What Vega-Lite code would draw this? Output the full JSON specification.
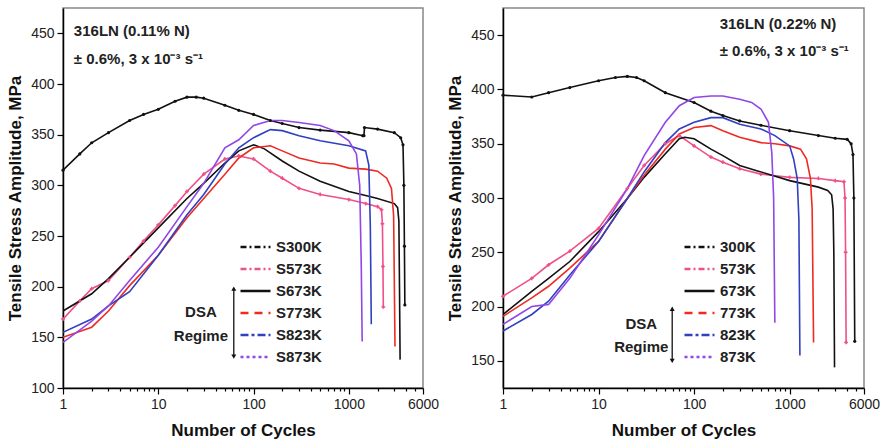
{
  "$schema": "https://vega.github.io/schema/vega-lite/v6.json",
  "background": "white",
  "padding": {"left": 5, "top": 7, "right": 1, "bottom": 0},
  "spacing": 80,
  "bounds": "flush",
  "config": {
    "font": "Liberation Sans",
    "view": {"stroke": "#888", "strokeWidth": 1.5},
    "axis": {"domainColor": "#000", "domainWidth": 1.5, "tickColor": "#000", "tickWidth": 1.2, "labelFontSize": 14, "labelColor": "#222", "titleFontSize": 17, "titleFontWeight": "bold", "titleColor": "#111", "grid": false, "labelFlush": false, "labelOverlap": false, "labelPadding": 3}
  },
  "datasets": {
    "left": [
      {"series": "S300K", "n": 1, "s": 315}, {"series": "S300K", "n": 1.5, "s": 331}, {"series": "S300K", "n": 2, "s": 342}, {"series": "S300K", "n": 3, "s": 352}, {"series": "S300K", "n": 5, "s": 364}, {"series": "S300K", "n": 7, "s": 370}, {"series": "S300K", "n": 10, "s": 375}, {"series": "S300K", "n": 15, "s": 383}, {"series": "S300K", "n": 20, "s": 387}, {"series": "S300K", "n": 25, "s": 387}, {"series": "S300K", "n": 30, "s": 386}, {"series": "S300K", "n": 50, "s": 379}, {"series": "S300K", "n": 70, "s": 374}, {"series": "S300K", "n": 100, "s": 370}, {"series": "S300K", "n": 150, "s": 364}, {"series": "S300K", "n": 200, "s": 361}, {"series": "S300K", "n": 300, "s": 357}, {"series": "S300K", "n": 500, "s": 354.5}, {"series": "S300K", "n": 1000, "s": 352}, {"series": "S300K", "n": 1400, "s": 349}, {"series": "S300K", "n": 1440, "s": 349}, {"series": "S300K", "n": 1460, "s": 357}, {"series": "S300K", "n": 2000, "s": 355.5}, {"series": "S300K", "n": 3000, "s": 352}, {"series": "S300K", "n": 3500, "s": 347}, {"series": "S300K", "n": 3700, "s": 340}, {"series": "S300K", "n": 3780, "s": 300}, {"series": "S300K", "n": 3830, "s": 240}, {"series": "S300K", "n": 3870, "s": 182},
      {"series": "S573K", "n": 1, "s": 168}, {"series": "S573K", "n": 1.5, "s": 186}, {"series": "S573K", "n": 2, "s": 198}, {"series": "S573K", "n": 3, "s": 206}, {"series": "S573K", "n": 5, "s": 229}, {"series": "S573K", "n": 7, "s": 245}, {"series": "S573K", "n": 10, "s": 261}, {"series": "S573K", "n": 15, "s": 280}, {"series": "S573K", "n": 20, "s": 294}, {"series": "S573K", "n": 30, "s": 311}, {"series": "S573K", "n": 50, "s": 326}, {"series": "S573K", "n": 70, "s": 329}, {"series": "S573K", "n": 100, "s": 326}, {"series": "S573K", "n": 150, "s": 314}, {"series": "S573K", "n": 200, "s": 307}, {"series": "S573K", "n": 300, "s": 297}, {"series": "S573K", "n": 500, "s": 291}, {"series": "S573K", "n": 1000, "s": 286}, {"series": "S573K", "n": 1500, "s": 282}, {"series": "S573K", "n": 2000, "s": 279}, {"series": "S573K", "n": 2200, "s": 276}, {"series": "S573K", "n": 2250, "s": 262}, {"series": "S573K", "n": 2280, "s": 220}, {"series": "S573K", "n": 2300, "s": 180},
      {"series": "S673K", "n": 1, "s": 176}, {"series": "S673K", "n": 2, "s": 193}, {"series": "S673K", "n": 3, "s": 208}, {"series": "S673K", "n": 5, "s": 229}, {"series": "S673K", "n": 10, "s": 258}, {"series": "S673K", "n": 20, "s": 287}, {"series": "S673K", "n": 30, "s": 302}, {"series": "S673K", "n": 50, "s": 322}, {"series": "S673K", "n": 70, "s": 334}, {"series": "S673K", "n": 100, "s": 340}, {"series": "S673K", "n": 130, "s": 336}, {"series": "S673K", "n": 200, "s": 324}, {"series": "S673K", "n": 300, "s": 314}, {"series": "S673K", "n": 500, "s": 304}, {"series": "S673K", "n": 1000, "s": 294}, {"series": "S673K", "n": 1500, "s": 290}, {"series": "S673K", "n": 2000, "s": 287}, {"series": "S673K", "n": 3000, "s": 282}, {"series": "S673K", "n": 3250, "s": 278}, {"series": "S673K", "n": 3350, "s": 265}, {"series": "S673K", "n": 3400, "s": 200}, {"series": "S673K", "n": 3450, "s": 128},
      {"series": "S773K", "n": 1, "s": 150}, {"series": "S773K", "n": 2, "s": 160}, {"series": "S773K", "n": 3, "s": 176}, {"series": "S773K", "n": 5, "s": 201}, {"series": "S773K", "n": 10, "s": 231}, {"series": "S773K", "n": 20, "s": 268}, {"series": "S773K", "n": 30, "s": 287}, {"series": "S773K", "n": 50, "s": 311}, {"series": "S773K", "n": 70, "s": 327}, {"series": "S773K", "n": 100, "s": 337}, {"series": "S773K", "n": 150, "s": 339}, {"series": "S773K", "n": 200, "s": 334}, {"series": "S773K", "n": 300, "s": 327}, {"series": "S773K", "n": 500, "s": 322}, {"series": "S773K", "n": 700, "s": 321}, {"series": "S773K", "n": 1000, "s": 317}, {"series": "S773K", "n": 1500, "s": 316}, {"series": "S773K", "n": 2000, "s": 314}, {"series": "S773K", "n": 2500, "s": 307}, {"series": "S773K", "n": 2800, "s": 297}, {"series": "S773K", "n": 2950, "s": 270}, {"series": "S773K", "n": 3050, "s": 141},
      {"series": "S823K", "n": 1, "s": 155}, {"series": "S823K", "n": 2, "s": 168}, {"series": "S823K", "n": 3, "s": 181}, {"series": "S823K", "n": 5, "s": 195}, {"series": "S823K", "n": 10, "s": 231}, {"series": "S823K", "n": 20, "s": 271}, {"series": "S823K", "n": 30, "s": 291}, {"series": "S823K", "n": 50, "s": 321}, {"series": "S823K", "n": 70, "s": 337}, {"series": "S823K", "n": 100, "s": 347}, {"series": "S823K", "n": 150, "s": 355}, {"series": "S823K", "n": 200, "s": 354}, {"series": "S823K", "n": 300, "s": 349}, {"series": "S823K", "n": 500, "s": 344}, {"series": "S823K", "n": 1000, "s": 339}, {"series": "S823K", "n": 1500, "s": 334}, {"series": "S823K", "n": 1620, "s": 320}, {"series": "S823K", "n": 1680, "s": 260}, {"series": "S823K", "n": 1720, "s": 163},
      {"series": "S873K", "n": 1, "s": 145}, {"series": "S873K", "n": 2, "s": 166}, {"series": "S873K", "n": 3, "s": 181}, {"series": "S873K", "n": 5, "s": 206}, {"series": "S873K", "n": 10, "s": 239}, {"series": "S873K", "n": 20, "s": 279}, {"series": "S873K", "n": 30, "s": 302}, {"series": "S873K", "n": 50, "s": 337}, {"series": "S873K", "n": 70, "s": 345}, {"series": "S873K", "n": 100, "s": 359}, {"series": "S873K", "n": 150, "s": 364}, {"series": "S873K", "n": 200, "s": 364}, {"series": "S873K", "n": 300, "s": 362}, {"series": "S873K", "n": 500, "s": 359}, {"series": "S873K", "n": 700, "s": 354}, {"series": "S873K", "n": 1000, "s": 344}, {"series": "S873K", "n": 1200, "s": 331}, {"series": "S873K", "n": 1300, "s": 300}, {"series": "S873K", "n": 1350, "s": 220}, {"series": "S873K", "n": 1380, "s": 146}
    ],
    "right": [
      {"series": "300K", "n": 1, "s": 394.7}, {"series": "300K", "n": 2, "s": 393}, {"series": "300K", "n": 3, "s": 397}, {"series": "300K", "n": 5, "s": 401.7}, {"series": "300K", "n": 10, "s": 408}, {"series": "300K", "n": 15, "s": 411}, {"series": "300K", "n": 20, "s": 412}, {"series": "300K", "n": 25, "s": 411}, {"series": "300K", "n": 30, "s": 408}, {"series": "300K", "n": 50, "s": 397}, {"series": "300K", "n": 100, "s": 388}, {"series": "300K", "n": 150, "s": 380}, {"series": "300K", "n": 200, "s": 376}, {"series": "300K", "n": 300, "s": 371}, {"series": "300K", "n": 500, "s": 367}, {"series": "300K", "n": 1000, "s": 362}, {"series": "300K", "n": 2000, "s": 357.5}, {"series": "300K", "n": 3000, "s": 355}, {"series": "300K", "n": 4000, "s": 354}, {"series": "300K", "n": 4400, "s": 350}, {"series": "300K", "n": 4600, "s": 340}, {"series": "300K", "n": 4700, "s": 300}, {"series": "300K", "n": 4800, "s": 168},
      {"series": "573K", "n": 1, "s": 209.5}, {"series": "573K", "n": 2, "s": 226}, {"series": "573K", "n": 3, "s": 238.5}, {"series": "573K", "n": 5, "s": 251}, {"series": "573K", "n": 10, "s": 272}, {"series": "573K", "n": 20, "s": 308.7}, {"series": "573K", "n": 30, "s": 330}, {"series": "573K", "n": 50, "s": 350}, {"series": "573K", "n": 70, "s": 357.5}, {"series": "573K", "n": 100, "s": 348}, {"series": "573K", "n": 150, "s": 337.7}, {"series": "573K", "n": 200, "s": 333}, {"series": "573K", "n": 300, "s": 327}, {"series": "573K", "n": 500, "s": 322}, {"series": "573K", "n": 1000, "s": 319}, {"series": "573K", "n": 2000, "s": 318}, {"series": "573K", "n": 3000, "s": 316}, {"series": "573K", "n": 3700, "s": 315}, {"series": "573K", "n": 3800, "s": 300}, {"series": "573K", "n": 3850, "s": 250}, {"series": "573K", "n": 3900, "s": 167},
      {"series": "673K", "n": 1, "s": 192.7}, {"series": "673K", "n": 2, "s": 214}, {"series": "673K", "n": 3, "s": 226}, {"series": "673K", "n": 5, "s": 241.5}, {"series": "673K", "n": 10, "s": 269}, {"series": "673K", "n": 20, "s": 299.5}, {"series": "673K", "n": 30, "s": 319}, {"series": "673K", "n": 50, "s": 340.7}, {"series": "673K", "n": 70, "s": 354.5}, {"series": "673K", "n": 80, "s": 356}, {"series": "673K", "n": 100, "s": 354.5}, {"series": "673K", "n": 150, "s": 345}, {"series": "673K", "n": 200, "s": 339}, {"series": "673K", "n": 300, "s": 330}, {"series": "673K", "n": 500, "s": 324}, {"series": "673K", "n": 1000, "s": 316}, {"series": "673K", "n": 2000, "s": 310}, {"series": "673K", "n": 2500, "s": 307}, {"series": "673K", "n": 2750, "s": 303}, {"series": "673K", "n": 2850, "s": 290}, {"series": "673K", "n": 2900, "s": 250}, {"series": "673K", "n": 2950, "s": 144},
      {"series": "773K", "n": 1, "s": 191}, {"series": "773K", "n": 2, "s": 208}, {"series": "773K", "n": 3, "s": 218.7}, {"series": "773K", "n": 5, "s": 235.4}, {"series": "773K", "n": 10, "s": 260}, {"series": "773K", "n": 20, "s": 299.5}, {"series": "773K", "n": 30, "s": 321}, {"series": "773K", "n": 50, "s": 345}, {"series": "773K", "n": 70, "s": 359}, {"series": "773K", "n": 100, "s": 365}, {"series": "773K", "n": 150, "s": 366.7}, {"series": "773K", "n": 200, "s": 362}, {"series": "773K", "n": 300, "s": 356}, {"series": "773K", "n": 500, "s": 351}, {"series": "773K", "n": 700, "s": 350}, {"series": "773K", "n": 1000, "s": 348}, {"series": "773K", "n": 1300, "s": 345}, {"series": "773K", "n": 1500, "s": 336}, {"series": "773K", "n": 1650, "s": 318}, {"series": "773K", "n": 1720, "s": 290}, {"series": "773K", "n": 1780, "s": 167},
      {"series": "823K", "n": 1, "s": 177.5}, {"series": "823K", "n": 2, "s": 192.7}, {"series": "823K", "n": 3, "s": 205}, {"series": "823K", "n": 5, "s": 229}, {"series": "823K", "n": 10, "s": 260}, {"series": "823K", "n": 20, "s": 299.5}, {"series": "823K", "n": 30, "s": 324}, {"series": "823K", "n": 50, "s": 351}, {"series": "823K", "n": 70, "s": 363.6}, {"series": "823K", "n": 100, "s": 369.7}, {"series": "823K", "n": 150, "s": 374}, {"series": "823K", "n": 200, "s": 374}, {"series": "823K", "n": 300, "s": 368}, {"series": "823K", "n": 500, "s": 363.6}, {"series": "823K", "n": 700, "s": 357.5}, {"series": "823K", "n": 1000, "s": 348}, {"series": "823K", "n": 1100, "s": 336}, {"series": "823K", "n": 1200, "s": 318}, {"series": "823K", "n": 1250, "s": 280}, {"series": "823K", "n": 1280, "s": 155},
      {"series": "873K", "n": 1, "s": 183.6}, {"series": "873K", "n": 2, "s": 200}, {"series": "873K", "n": 3, "s": 202}, {"series": "873K", "n": 5, "s": 226}, {"series": "873K", "n": 10, "s": 266}, {"series": "873K", "n": 20, "s": 308.7}, {"series": "873K", "n": 30, "s": 339}, {"series": "873K", "n": 50, "s": 369.7}, {"series": "873K", "n": 70, "s": 385}, {"series": "873K", "n": 100, "s": 392.6}, {"series": "873K", "n": 150, "s": 394}, {"series": "873K", "n": 200, "s": 394}, {"series": "873K", "n": 300, "s": 391}, {"series": "873K", "n": 400, "s": 388}, {"series": "873K", "n": 500, "s": 382}, {"series": "873K", "n": 600, "s": 369.7}, {"series": "873K", "n": 650, "s": 342}, {"series": "873K", "n": 680, "s": 300}, {"series": "873K", "n": 700, "s": 185}
    ],
    "leftNotes": [
      {"n": 1.3, "s": 452, "t": "316LN (0.11% N)", "kind": "head"},
      {"n": 1.3, "s": 425, "t": "± 0.6%, 3 x 10⁻³ s⁻¹", "kind": "head"},
      {"n": 28, "s": 175, "t": "DSA", "kind": "dsa"},
      {"n": 28, "s": 151, "t": "Regime", "kind": "dsa"}
    ],
    "rightNotes": [
      {"n": 185, "s": 460, "t": "316LN (0.22% N)", "kind": "head"},
      {"n": 185, "s": 435, "t": "± 0.6%, 3 x 10⁻³ s⁻¹", "kind": "head"},
      {"n": 28, "s": 183.5, "t": "DSA", "kind": "dsa"},
      {"n": 28, "s": 163, "t": "Regime", "kind": "dsa"}
    ],
    "leftArrow": [{"n": 62, "top": 198, "bottom": 131}],
    "rightArrow": [{"n": 59, "top": 198, "bottom": 150}]
  },
  "hconcat": [
    {
      "width": 360,
      "height": 380,
      "layer": [
        {
          "data": {"name": "left"},
          "mark": {"type": "line", "strokeWidth": 1.6, "clip": true},
          "encoding": {
            "x": {"field": "n", "type": "quantitative", "scale": {"type": "log", "domain": [1, 6000], "nice": false},
              "axis": {"title": "Number of Cycles", "values": [1,2,3,4,5,6,7,8,9,10,20,30,40,50,60,70,80,90,100,200,300,400,500,600,700,800,900,1000,2000,3000,4000,5000,6000],
                "labelExpr": "indexof([1,10,100,1000,6000], datum.value) >= 0 ? '' + datum.value : ''",
                "tickSize": {"condition": {"test": "indexof([1,10,100,1000,6000], datum.value) >= 0", "value": 6}, "value": 3},
                "titlePadding": 11}},
            "y": {"field": "s", "type": "quantitative", "scale": {"domain": [100, 475], "nice": false, "zero": false},
              "axis": {"title": "Tensile Stress Amplitude, MPa", "values": [100,125,150,175,200,225,250,275,300,325,350,375,400,425,450,475],
                "labelExpr": "datum.value % 50 == 0 ? '' + datum.value : ''",
                "tickSize": {"condition": {"test": "datum.value % 50 == 0", "value": 6}, "value": 3},
                "titlePadding": 6}},
            "color": {"field": "series", "type": "nominal",
              "scale": {"domain": ["S300K", "S573K", "S673K", "S773K", "S823K", "S873K"], "range": ["#111111", "#f0508a", "#111111", "#ee2b22", "#3040c0", "#9146e6"]},
              "legend": {"orient": "none", "legendX": 176, "legendY": 228, "title": null, "symbolType": "stroke", "symbolSize": 900, "symbolStrokeWidth": 2.5, "labelFontSize": 15, "labelFontWeight": "bold", "labelColor": "#222", "rowPadding": 0, "clipHeight": 22, "labelOffset": 4,
                "encode": {"symbols": {"update": {"strokeDash": {"signal": "datum.value == 'S300K' || datum.value == 'S573K' ? [6,3,2,3] : datum.value == 'S773K' ? [8,6] : datum.value == 'S823K' ? [8,3,3,3] : datum.value == 'S873K' ? [3,3] : [1,0]"}}}}}}
          }
        },
        {
          "data": {"name": "left"},
          "transform": [{"filter": "datum.series == 'S300K'"}],
          "mark": {"type": "point", "shape": "circle", "filled": true, "color": "#111", "size": 10, "opacity": 1},
          "encoding": {"x": {"field": "n", "type": "quantitative"}, "y": {"field": "s", "type": "quantitative"}}
        },
        {
          "data": {"name": "left"},
          "transform": [{"filter": "datum.series == 'S573K'"}],
          "mark": {"type": "point", "shape": "cross", "filled": true, "color": "#f0508a", "size": 14, "opacity": 1},
          "encoding": {"x": {"field": "n", "type": "quantitative"}, "y": {"field": "s", "type": "quantitative"}}
        },
        {
          "data": {"name": "leftNotes"},
          "transform": [{"filter": "datum.kind == 'head'"}],
          "mark": {"type": "text", "align": "left", "baseline": "middle", "fontSize": 15, "fontWeight": "bold", "color": "#222"},
          "encoding": {"x": {"field": "n", "type": "quantitative"}, "y": {"field": "s", "type": "quantitative"}, "text": {"field": "t"}}
        },
        {
          "data": {"name": "leftNotes"},
          "transform": [{"filter": "datum.kind == 'dsa'"}],
          "mark": {"type": "text", "align": "center", "baseline": "middle", "fontSize": 15, "fontWeight": "bold", "color": "#222"},
          "encoding": {"x": {"field": "n", "type": "quantitative"}, "y": {"field": "s", "type": "quantitative"}, "text": {"field": "t"}}
        },
        {
          "data": {"name": "leftArrow"},
          "mark": {"type": "rule", "color": "#111", "strokeWidth": 1.3},
          "encoding": {"x": {"field": "n", "type": "quantitative"}, "y": {"field": "top", "type": "quantitative"}, "y2": {"field": "bottom"}}
        },
        {
          "data": {"name": "leftArrow"},
          "mark": {"type": "point", "shape": "triangle-up", "filled": true, "color": "#111", "size": 25, "opacity": 1},
          "encoding": {"x": {"field": "n", "type": "quantitative"}, "y": {"field": "top", "type": "quantitative"}}
        },
        {
          "data": {"name": "leftArrow"},
          "mark": {"type": "point", "shape": "triangle-down", "filled": true, "color": "#111", "size": 25, "opacity": 1},
          "encoding": {"x": {"field": "n", "type": "quantitative"}, "y": {"field": "bottom", "type": "quantitative"}}
        }
      ]
    },
    {
      "width": 361,
      "height": 380,
      "layer": [
        {
          "data": {"name": "right"},
          "mark": {"type": "line", "strokeWidth": 1.6, "clip": true},
          "encoding": {
            "x": {"field": "n", "type": "quantitative", "scale": {"type": "log", "domain": [1, 6000], "nice": false},
              "axis": {"title": "Number of Cycles", "values": [1,2,3,4,5,6,7,8,9,10,20,30,40,50,60,70,80,90,100,200,300,400,500,600,700,800,900,1000,2000,3000,4000,5000,6000],
                "labelExpr": "indexof([1,10,100,1000,6000], datum.value) >= 0 ? '' + datum.value : ''",
                "tickSize": {"condition": {"test": "indexof([1,10,100,1000,6000], datum.value) >= 0", "value": 6}, "value": 3},
                "titlePadding": 11}},
            "y": {"field": "s", "type": "quantitative", "scale": {"domain": [125, 475], "nice": false, "zero": false},
              "axis": {"title": "Tensile Stress Amplitude, MPa", "values": [150,200,250,300,350,400,450], "format": "d", "tickSize": 6,
                "titlePadding": 6}},
            "color": {"field": "series", "type": "nominal",
              "scale": {"domain": ["300K", "573K", "673K", "773K", "823K", "873K"], "range": ["#111111", "#f0508a", "#111111", "#ee2b22", "#3040c0", "#9146e6"]},
              "legend": {"orient": "none", "legendX": 180, "legendY": 228, "title": null, "symbolType": "stroke", "symbolSize": 900, "symbolStrokeWidth": 2.5, "labelFontSize": 15, "labelFontWeight": "bold", "labelColor": "#222", "rowPadding": 0, "clipHeight": 22, "labelOffset": 4,
                "encode": {"symbols": {"update": {"strokeDash": {"signal": "datum.value == '300K' || datum.value == '573K' ? [6,3,2,3] : datum.value == '773K' ? [8,6] : datum.value == '823K' ? [8,3,3,3] : datum.value == '873K' ? [3,3] : [1,0]"}}}}}}
          }
        },
        {
          "data": {"name": "right"},
          "transform": [{"filter": "datum.series == '300K'"}],
          "mark": {"type": "point", "shape": "circle", "filled": true, "color": "#111", "size": 10, "opacity": 1},
          "encoding": {"x": {"field": "n", "type": "quantitative"}, "y": {"field": "s", "type": "quantitative"}}
        },
        {
          "data": {"name": "right"},
          "transform": [{"filter": "datum.series == '573K'"}],
          "mark": {"type": "point", "shape": "cross", "filled": true, "color": "#f0508a", "size": 14, "opacity": 1},
          "encoding": {"x": {"field": "n", "type": "quantitative"}, "y": {"field": "s", "type": "quantitative"}}
        },
        {
          "data": {"name": "rightNotes"},
          "transform": [{"filter": "datum.kind == 'head'"}],
          "mark": {"type": "text", "align": "left", "baseline": "middle", "fontSize": 15, "fontWeight": "bold", "color": "#222"},
          "encoding": {"x": {"field": "n", "type": "quantitative"}, "y": {"field": "s", "type": "quantitative"}, "text": {"field": "t"}}
        },
        {
          "data": {"name": "rightNotes"},
          "transform": [{"filter": "datum.kind == 'dsa'"}],
          "mark": {"type": "text", "align": "center", "baseline": "middle", "fontSize": 15, "fontWeight": "bold", "color": "#222"},
          "encoding": {"x": {"field": "n", "type": "quantitative"}, "y": {"field": "s", "type": "quantitative"}, "text": {"field": "t"}}
        },
        {
          "data": {"name": "rightArrow"},
          "mark": {"type": "rule", "color": "#111", "strokeWidth": 1.3},
          "encoding": {"x": {"field": "n", "type": "quantitative"}, "y": {"field": "top", "type": "quantitative"}, "y2": {"field": "bottom"}}
        },
        {
          "data": {"name": "rightArrow"},
          "mark": {"type": "point", "shape": "triangle-up", "filled": true, "color": "#111", "size": 25, "opacity": 1},
          "encoding": {"x": {"field": "n", "type": "quantitative"}, "y": {"field": "top", "type": "quantitative"}}
        },
        {
          "data": {"name": "rightArrow"},
          "mark": {"type": "point", "shape": "triangle-down", "filled": true, "color": "#111", "size": 25, "opacity": 1},
          "encoding": {"x": {"field": "n", "type": "quantitative"}, "y": {"field": "bottom", "type": "quantitative"}}
        }
      ]
    }
  ],
  "resolve": {"scale": {"color": "independent"}, "legend": {"color": "independent"}}
}
